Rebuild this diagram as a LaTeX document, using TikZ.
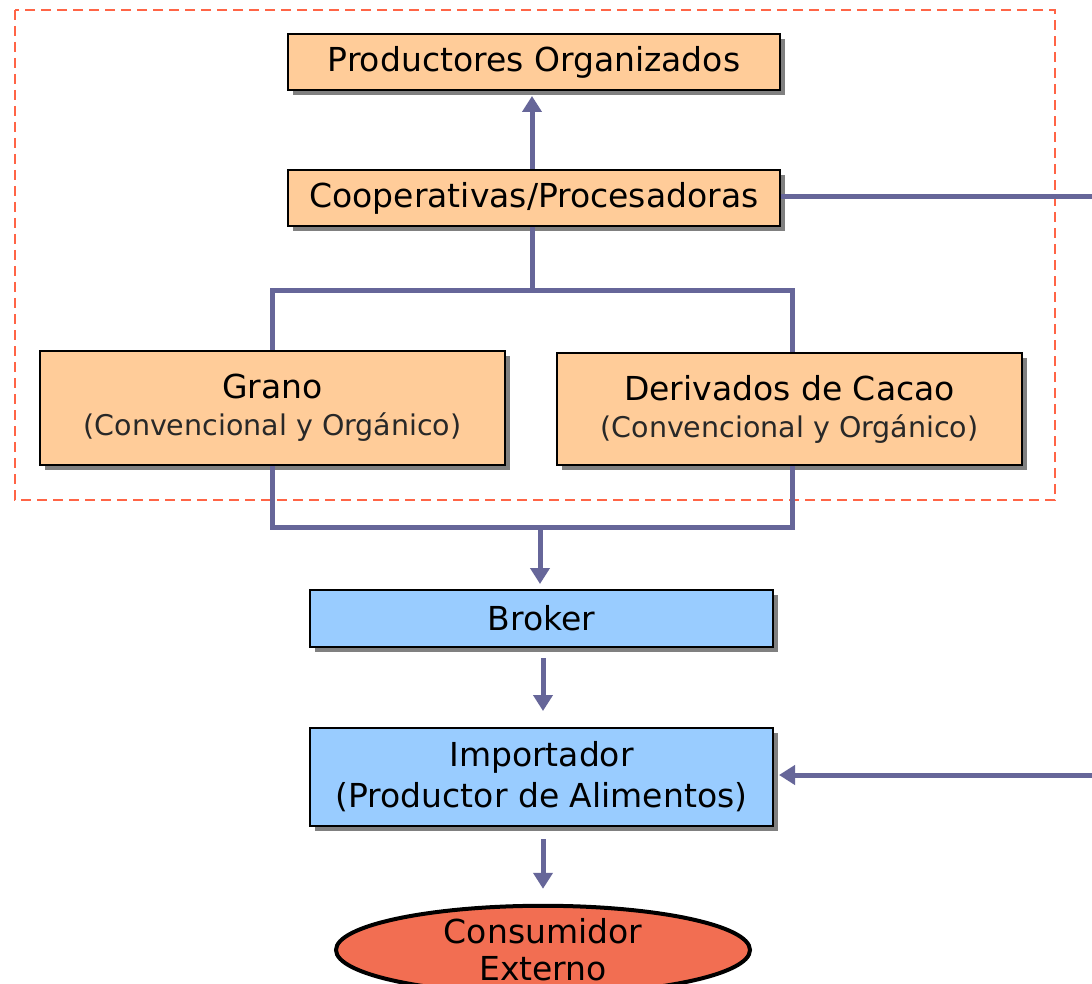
\documentclass[tikz,border=0pt]{standalone}
\usepackage{fontspec}
\setmainfont{DejaVu Sans}
\usetikzlibrary{arrows.meta,shadows,shapes.geometric}
\definecolor{boxorange}{RGB}{255,204,153}
\definecolor{boxblue}{RGB}{153,204,255}
\definecolor{linkc}{RGB}{102,102,153}
\definecolor{dashc}{RGB}{255,100,70}
\definecolor{consc}{RGB}{242,110,82}
\definecolor{subc}{RGB}{40,40,40}
\tikzset{
  basebox/.style={draw=black, line width=2pt, inner sep=0pt, align=center,
    font=\fontsize{33}{41}\selectfont,
    drop shadow={shadow xshift=5pt, shadow yshift=-5pt, fill=black!50, opacity=1}},
  orangebox/.style={basebox, fill=boxorange},
  bluebox/.style={basebox, fill=boxblue},
  link/.style={draw=linkc, line width=5pt},
  arr/.style={link, -{Triangle[width=19pt,length=16pt]}},
  frame/.style={draw=dashc, line width=1.6pt, dash pattern=on 10pt off 6pt}
}
\begin{document}
\begin{tikzpicture}[x=1pt,y=-1pt]
\useasboundingbox (0,0) rectangle (1092,984);
\fill[white] (0,0) rectangle (1092,984);

\draw[frame] (15,10) rectangle (1055,500);

\node[orangebox, minimum width=492pt, minimum height=56pt] (prod) at (534,62) {Productores Organizados};
\node[orangebox, minimum width=492pt, minimum height=56pt] (coop) at (534,198) {Cooperativas/Procesadoras};
\node[orangebox, minimum width=465pt, minimum height=114pt] (grano) at (272.5,408)
  {Grano\\[-4pt]{\fontsize{28.5}{34}\selectfont\color{subc}(Convencional y Orgánico)}};
\node[orangebox, minimum width=465pt, minimum height=112pt] (deriv) at (789.5,409)
  {Derivados de Cacao\\[-4pt]{\fontsize{28.5}{34}\selectfont\color{subc}(Convencional y Orgánico)}};
\node[bluebox, minimum width=463pt, minimum height=57pt] (broker) at (541.5,618.5) {Broker};
\node[bluebox, minimum width=463pt, minimum height=98pt] (import) at (541.5,777) {Importador\\(Productor de Alimentos)};
\node[ellipse, draw=black, line width=4pt, fill=consc, minimum width=414pt, minimum height=84pt,
  inner sep=0pt, align=center, font=\fontsize{33}{37}\selectfont] (cons) at (543,950) {Consumidor\\Externo};

% coordinates
\coordinate (jtop) at (532,291);
\coordinate (jtl) at (272,291);
\coordinate (jtr) at (792,291);
\coordinate (jbl) at (272,527);
\coordinate (jbr) at (792,527);
\coordinate (jbm) at (540,527);
\coordinate (rtop) at (1095,197);
\coordinate (rbot) at (1095,775);

% connectors
\draw[arr, shorten >=5pt] (coop.north -| jtop) -- (prod.south -| jtop);
\draw[link] (coop.east |- rtop) -- (rtop);
\draw[link] (coop.south -| jtop) -- (jtop);
\draw[link] (grano.north -| jtl) -- (jtl) -- (jtr) -- (deriv.north -| jtr);
\draw[link] (grano.south -| jbl) -- (jbl) -- (jbr) -- (deriv.south -| jbr);
\draw[arr, shorten >=5pt] (jbm) -- (broker.north -| jbm);
\draw[arr, shorten <=10pt, shorten >=16pt] (broker.south -| 543,0) -- (import.north -| 543,0);
\draw[arr, shorten <=12pt, shorten >=15pt] (import.south -| 543,0) -- (cons.north -| 543,0);
\draw[arr, shorten >=5pt] (rbot) -- (import.east |- rbot);
\end{tikzpicture}
\end{document}
